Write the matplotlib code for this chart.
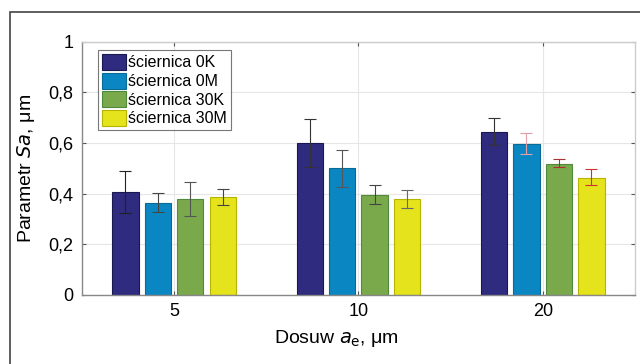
import matplotlib
matplotlib.use("Agg")
import matplotlib.pyplot as plt
import numpy as np
from matplotlib.patches import Rectangle

plt.rcParams['font.family'] = ['Liberation Sans', 'DejaVu Sans']

categories = ['5', '10', '20']
series = ['ściernica 0K', 'ściernica 0M', 'ściernica 30K', 'ściernica 30M']
values = [
    [0.405, 0.600, 0.644],
    [0.365, 0.501, 0.598],
    [0.378, 0.396, 0.518],
    [0.386, 0.380, 0.463],
]
err_low = [
    [0.323, 0.507, 0.592],
    [0.327, 0.428, 0.558],
    [0.312, 0.360, 0.505],
    [0.356, 0.345, 0.436],
]
err_high = [
    [0.489, 0.695, 0.699],
    [0.402, 0.571, 0.641],
    [0.445, 0.436, 0.536],
    [0.417, 0.413, 0.497],
]
yticks = [0, 0.2, 0.4, 0.6, 0.8, 1.0]
ytick_labels = ['0', '0,2', '0,4', '0,6', '0,8', '1']

colors = ['#2f2b7e', '#0a87c2', '#7aa94c', '#e5e31c']
edge_colors = ['#1a1850', '#0a6a96', '#4f8a3a', '#b8b400']
err_colors = [
    ['#222222', '#333333', '#333333'],
    ['#444444', '#555555', '#e0a0a8'],
    ['#555555', '#444444', '#a83030'],
    ['#444444', '#666666', '#d03030'],
]

fig = plt.figure(figsize=(6.4, 3.64), dpi=100)
ax = fig.add_axes([0.128, 0.19, 0.864, 0.695])

x = np.arange(1, len(categories) + 1)
width = 0.143
step = 0.176
offsets = (np.arange(len(series)) - (len(series) - 1) / 2) * step

for i, s in enumerate(series):
    xs = x + offsets[i]
    v = np.array(values[i])
    ax.bar(xs, v, width=width, color=colors[i], edgecolor=edge_colors[i],
           linewidth=0.8, label=s, zorder=2)
    for j in range(len(categories)):
        lo = v[j] - err_low[i][j]
        hi = err_high[i][j] - v[j]
        ax.errorbar(xs[j], v[j], yerr=[[lo], [hi]], fmt='none',
                    ecolor=err_colors[i][j], elinewidth=0.8, capsize=4,
                    capthick=0.8, zorder=3)

ax.set_xlim(0.5, 3.5)
ax.set_ylim(0, 1)
ax.set_xticks(x)
ax.set_xticklabels(categories, fontsize=13)
ax.set_yticks(yticks)
ax.set_yticklabels(ytick_labels, fontsize=13)
ax.grid(True, color='#e6e6e6', linewidth=0.8, zorder=0)
ax.set_axisbelow(True)
ax.tick_params(direction='in', length=3, color='#555555', top=True, right=True,
               pad=6)
for sp in ax.spines.values():
    sp.set_color('#cccccc')
    sp.set_linewidth(1.0)
ax.spines['bottom'].set_color('#888888')
ax.spines['left'].set_color('#888888')

ax.set_ylabel('Parametr $\\mathit{Sa}$, μm', fontsize=14, labelpad=8)
ax.set_xlabel('Dosuw $\\mathit{a}_{\\mathrm{e}}$, μm', fontsize=14)
ax.xaxis.set_label_coords(0.46, -0.13)

leg = ax.legend(loc='upper left', bbox_to_anchor=(0.029, 0.968), fontsize=11.5,
                frameon=True, fancybox=False, edgecolor='#555555',
                handlelength=1.5, handleheight=1.15, handletextpad=0.15,
                labelspacing=0.15, borderpad=0.25, borderaxespad=0)
leg.get_frame().set_linewidth(0.8)

border = Rectangle((10 / 640, -0.1), 1.2, 1.1 - 12 / 364, transform=fig.transFigure,
                   fill=False, edgecolor='#444444', linewidth=1.2, clip_on=False)
fig.patches.append(border)

fig.savefig('out.png', dpi=100)
